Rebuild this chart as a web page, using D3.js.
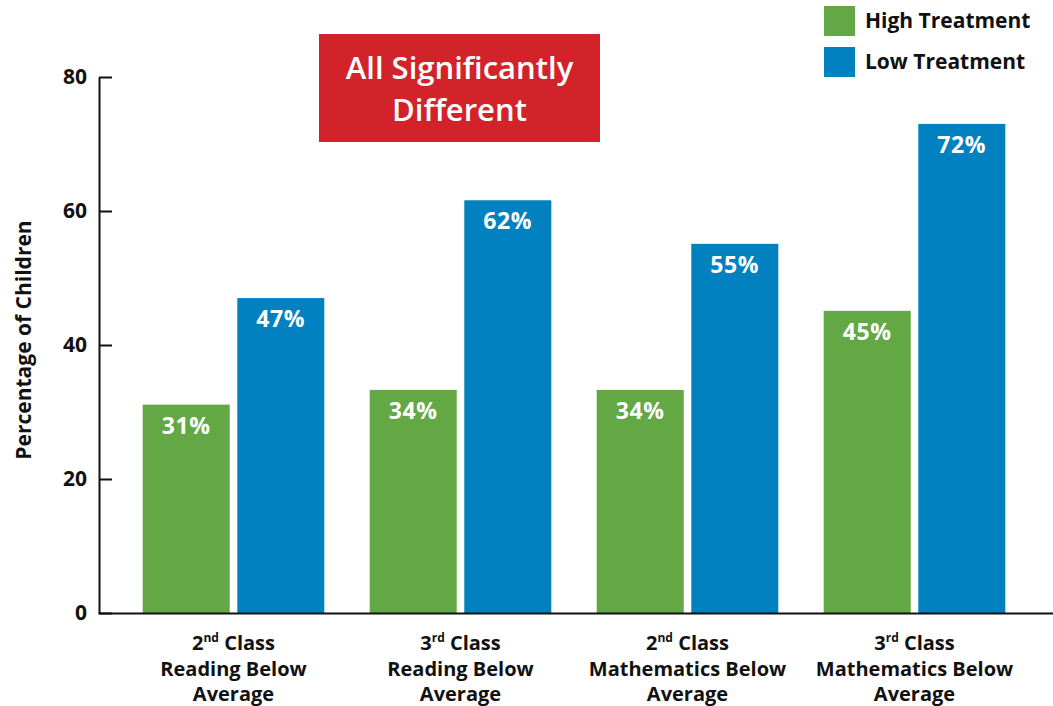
<!DOCTYPE html>
<html>
<head>
<meta charset="utf-8">
<script src="https://cdn.jsdelivr.net/npm/d3@7"></script>
<style>
  html, body { margin: 0; padding: 0; background: #fff; }
  svg { display: block; font-family: "Open Sans", "Noto Sans", sans-serif; }
</style>
</head>
<body>
<svg id="chart" width="1053" height="706"></svg>
<script>
// ---- data ----
const categories = [
  ["2|nd| Class", "Reading Below", "Average"],
  ["3|rd| Class", "Reading Below", "Average"],
  ["2|nd| Class", "Mathematics Below", "Average"],
  ["3|rd| Class", "Mathematics Below", "Average"]
];
const seriesNames = ["High Treatment", "Low Treatment"];
const highValues = [31.1, 33.3, 33.3, 45.1];
const lowValues = [47.0, 61.6, 55.1, 73.0];
const highLabels = ["31%", "34%", "34%", "45%"];
const lowLabels = ["47%", "62%", "55%", "72%"];
const yTicks = [0, 20, 40, 60, 80];
const titleLines = ["All Significantly", "Different"];
const yTitle = "Percentage of Children";
const colors = ["#63A845", "#0181BF"];

// ---- build ----
const svg = d3.select("#chart");
const y = d3.scaleLinear().domain([0, 80]).range([613, 77]);
const x0 = d3.scaleBand().domain(d3.range(categories.length)).range([120, 1028])
  .paddingInner(0.2).paddingOuter(0.1);
const x1 = d3.scaleBand().domain([0, 1]).range([0, x0.bandwidth()]).paddingInner(0.08);

const rows = categories.map((c, i) => ({
  i, vals: [highValues[i], lowValues[i]], labels: [highLabels[i], lowLabels[i]]
}));

const g = svg.selectAll("g.grp").data(rows).enter().append("g")
  .attr("class", "grp").attr("transform", d => `translate(${x0(d.i)},0)`);

g.selectAll("rect").data(d => d.vals.map((v, k) => ({v, k}))).enter().append("rect")
  .attr("x", d => x1(d.k)).attr("width", x1.bandwidth())
  .attr("y", d => y(d.v)).attr("height", d => y(0) - y(d.v))
  .attr("fill", d => colors[d.k]);

g.selectAll("text.val").data(d => d.labels.map((t, k) => ({t, k, v: d.vals[k]}))).enter()
  .append("text").attr("class", "val")
  .attr("x", d => x1(d.k) + x1.bandwidth() / 2)
  .attr("y", d => y(d.v) + 29)
  .attr("text-anchor", "middle").attr("fill", "#fff")
  .attr("font-size", 23).attr("font-weight", 700).attr("letter-spacing", 0.6)
  .text(d => d.t);

// y axis
const yAxis = d3.axisLeft(y).tickValues(yTicks).tickSizeInner(-13).tickSizeOuter(0).tickPadding(12);
const ya = svg.append("g").attr("transform", "translate(99,0)").call(yAxis);
ya.select(".domain").attr("stroke", "#111").attr("stroke-width", 2);
ya.selectAll(".tick line").attr("stroke", "#111").attr("stroke-width", 2);
ya.selectAll(".tick text").attr("font-size", 21).attr("font-weight", 700).attr("fill", "#111")
  .attr("font-family", "'Open Sans', sans-serif");

// x axis baseline
const xa = svg.append("g").attr("transform", `translate(0,${y(0)})`)
  .call(d3.axisBottom(d3.scaleLinear().domain([0, 1]).range([98, 1053])).tickValues([]).tickSizeOuter(0));
xa.select(".domain").attr("stroke", "#111").attr("stroke-width", 2);

// x labels
const xl = svg.selectAll("text.xl").data(categories).enter().append("text")
  .attr("class", "xl")
  .attr("text-anchor", "middle").attr("font-size", 20).attr("font-weight", 700).attr("fill", "#111")
  .attr("transform", (d, i) => `translate(${x0(i) + x0.bandwidth() / 2},0)`);
xl.each(function(lines) {
  const t = d3.select(this);
  lines.forEach((ln, li) => {
    const ts = t.append("tspan").attr("x", 0).attr("y", 650 + li * 25.5);
    if (ln.includes("|")) {
      const parts = ln.split("|");
      ts.text(parts[0]);
      t.append("tspan").attr("font-size", 12).attr("dy", -8).text(parts[1]);
      t.append("tspan").attr("dy", 8).text(parts[2]);
    } else {
      ts.text(ln);
    }
  });
});

// y title
svg.append("text").attr("transform", "translate(31,340) rotate(-90)")
  .attr("text-anchor", "middle").attr("font-size", 21).attr("font-weight", 700).attr("fill", "#111")
  .text(yTitle);

// title box
svg.append("rect").attr("x", 319).attr("y", 34).attr("width", 281).attr("height", 108).attr("fill", "#D2232A");
svg.selectAll("text.title").data(titleLines).enter().append("text").attr("class", "title")
  .attr("x", 459.5).attr("y", (d, i) => 79 + i * 42)
  .attr("text-anchor", "middle").attr("fill", "#fff").attr("font-size", 31).attr("font-weight", 600)
  .text(d => d);

// legend
const lg = svg.selectAll("g.lg").data(seriesNames).enter().append("g").attr("class", "lg")
  .attr("transform", (d, i) => `translate(824,${6 + i * 41})`);
lg.append("rect").attr("width", 31).attr("height", 30).attr("fill", (d, i) => colors[i]);
lg.append("text").attr("x", 41).attr("y", 22).attr("font-size", 21).attr("font-weight", 700)
  .attr("fill", "#111").text(d => d);
</script>
</body>
</html>
